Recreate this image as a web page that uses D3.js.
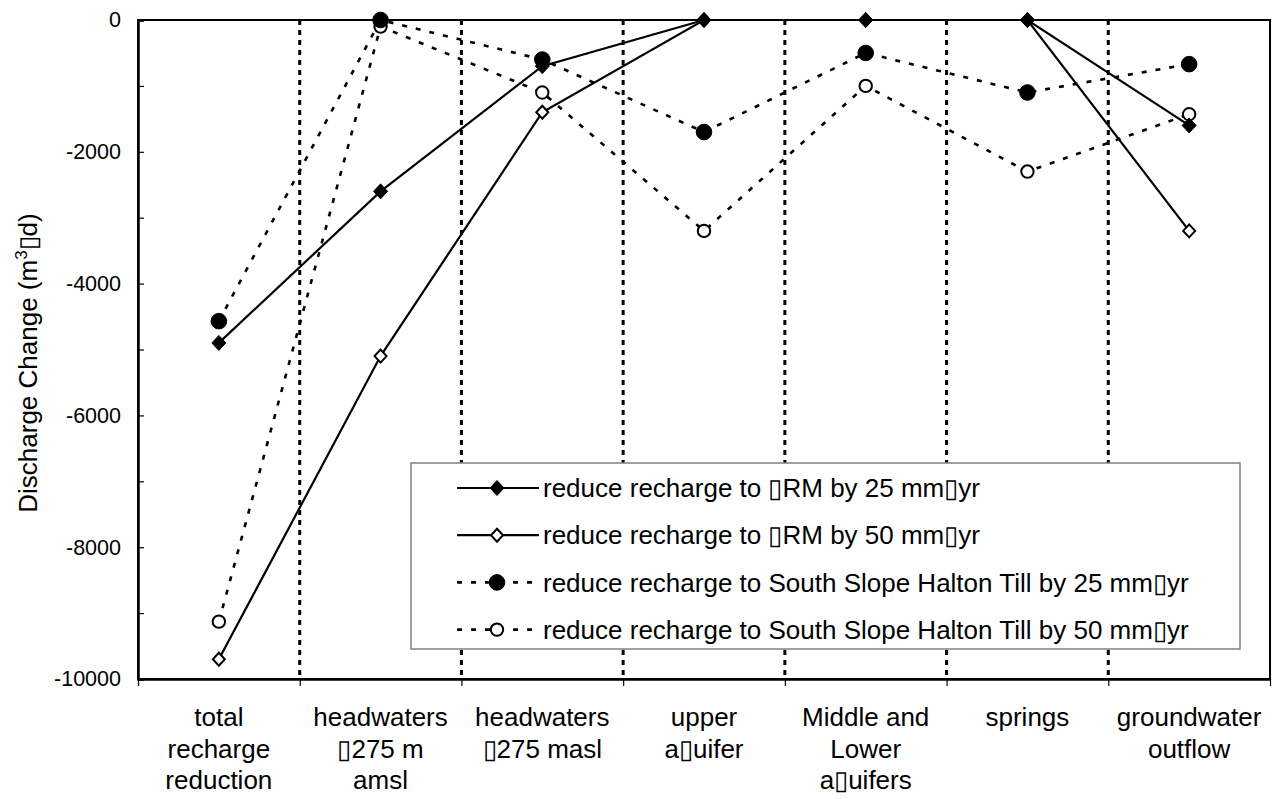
<!DOCTYPE html>
<html>
<head>
<meta charset="utf-8">
<style>
body { margin: 0; background: #fff; }
svg text { font-family: "Liberation Sans", Arial, sans-serif; fill: #000; }
.axis text { font-size: 21.5px; }
.cat text { font-size: 26px; text-anchor: middle; }
.legend text { font-size: 26px; }
</style>
</head>
<body>
<svg width="1275" height="799"></svg>
<script src="https://cdnjs.cloudflare.com/ajax/libs/d3/7.8.5/d3.min.js"></script>
<script>

// categories (line breaks as in the picture)
var categories = [
  ["total", "recharge", "reduction"],
  ["headwaters", "\u25AF275 m", "amsl"],
  ["headwaters", "\u25AF275 masl"],
  ["upper", "a\u25AFuifer"],
  ["Middle and", "Lower", "a\u25AFuifers"],
  ["springs"],
  ["groundwater", "outflow"]
];

var orm25  = [-4900, -2600, -700, 0, 0, 0, -1600];
var orm50  = [-9700, -5100, -1400, 0, 0, 0, -3200];
var till25 = [-4570, 0, -600, -1700, -500, -1100, -670];
var till50 = [-9130, -100, -1100, -3200, -1000, -2300, -1430];

var seriesNames = [
  "reduce recharge to \u25AFRM by 25 mm\u25AFyr",
  "reduce recharge to \u25AFRM by 50 mm\u25AFyr",
  "reduce recharge to South Slope Halton Till by 25 mm\u25AFyr",
  "reduce recharge to South Slope Halton Till by 50 mm\u25AFyr"
];

var yTicks = d3.range(-10000, 1, 1000);

(function() {

var svg = d3.select("svg");

var pLeft = 138, pRight = 1270, pTop = 20, pBottom = 679;

var xb = d3.scaleBand().domain(d3.range(categories.length)).range([pLeft, pRight]);
var xl = d3.scaleLinear().domain([0, categories.length]).range([pLeft, pRight]);
var y = d3.scaleLinear().domain([-10000, 0]).range([pBottom, pTop]);
var cx = function(i) { return xb(i) + xb.bandwidth() / 2; };

// frame
svg.append("rect")
    .attr("x", pLeft).attr("y", pTop)
    .attr("width", pRight - pLeft).attr("height", pBottom - pTop)
    .attr("fill", "none").attr("stroke", "#000").attr("stroke-width", 2);

// dashed category separators
svg.append("g").selectAll("line")
    .data(d3.range(1, categories.length))
  .enter().append("line")
    .attr("x1", function(d) { return xl(d); })
    .attr("x2", function(d) { return xl(d); })
    .attr("y1", pTop).attr("y2", pBottom)
    .attr("stroke", "#000").attr("stroke-width", 3)
    .attr("stroke-dasharray", "5,5");

// y axis
var yAxis = svg.append("g")
    .attr("class", "axis")
    .attr("transform", "translate(" + pLeft + ",0)")
    .call(d3.axisLeft(y)
      .tickValues(yTicks)
      .tickSize(-6)
      .tickPadding(17)
      .tickFormat(function(d) { return d % 2000 === 0 ? String(d) : ""; }));
yAxis.select(".domain").attr("stroke-width", 2.5);
yAxis.selectAll(".tick line").attr("stroke-width", 1.2);

// x axis (ticks at category boundaries)
var xAxis = svg.append("g")
    .attr("class", "axis")
    .attr("transform", "translate(0," + pBottom + ")")
    .call(d3.axisBottom(xl)
      .tickValues(d3.range(categories.length + 1))
      .tickSize(7)
      .tickSizeOuter(0)
      .tickFormat(""));
xAxis.select(".domain").attr("stroke-width", 2.5);
xAxis.selectAll(".tick line").attr("stroke-width", 1.2);

// category labels
var cat = svg.append("g").attr("class", "cat")
  .selectAll("text")
    .data(categories)
  .enter().append("text")
    .attr("x", function(d, i) { return cx(i); })
    .attr("y", 726);
cat.selectAll("tspan")
    .data(function(d) { return d; })
  .enter().append("tspan")
    .attr("x", function() { return d3.select(this.parentNode).attr("x"); })
    .attr("dy", function(d, j) { return j === 0 ? 0 : 31.5; })
    .text(function(d) { return d; });

// y title
var yt = svg.append("text")
    .attr("transform", "translate(37,363) rotate(-90)")
    .attr("text-anchor", "middle")
    .style("font-size", "26px");
yt.append("tspan").text("Discharge Change (m");
yt.append("tspan").attr("dy", -10).style("font-size", "17px").text("3");
yt.append("tspan").attr("dy", 10).text("\u25AFd)");

// series
var series = [
  { values: orm25,  dash: null,  marker: "diamond", filled: true },
  { values: orm50,  dash: null,  marker: "diamond", filled: false },
  { values: till25, dash: "5,9", marker: "circle",  filled: true },
  { values: till50, dash: "5,9", marker: "circle",  filled: false }
];

var line = d3.line()
    .x(function(d, i) { return cx(i); })
    .y(function(d) { return y(d); });

function drawMarker(g, s) {
  if (s.marker === "diamond") {
    var w = s.filled ? 7 : 6, h = s.filled ? 7.5 : 6.5;
    g.append("path")
      .attr("d", "M0," + (-h) + "L" + w + ",0L0," + h + "L" + (-w) + ",0Z")
      .attr("fill", s.filled ? "#000" : "#fff")
      .attr("stroke", "#000").attr("stroke-width", s.filled ? 1 : 2);
  } else {
    g.append("circle")
      .attr("r", s.filled ? 7.8 : 6.2)
      .attr("fill", s.filled ? "#000" : "#fff")
      .attr("stroke", "#000").attr("stroke-width", s.filled ? 1 : 2);
  }
}

var seriesG = svg.append("g");
series.slice().reverse().forEach(function(s) {
  var g = seriesG.append("g");
  g.append("path")
    .datum(s.values)
    .attr("d", line)
    .attr("fill", "none").attr("stroke", "#000")
    .attr("stroke-width", s.dash ? 2.6 : 2.2)
    .attr("stroke-dasharray", s.dash);
  g.selectAll("g.m")
    .data(s.values)
  .enter().append("g")
    .attr("class", "m")
    .attr("transform", function(d, i) { return "translate(" + cx(i) + "," + y(d) + ")"; })
    .each(function() { drawMarker(d3.select(this), s); });
});

// legend
var lg = svg.append("g").attr("class", "legend");
lg.append("rect")
    .attr("x", 411).attr("y", 463).attr("width", 829).attr("height", 186)
    .attr("fill", "#fff").attr("stroke", "#808080").attr("stroke-width", 1.5);
series.forEach(function(s, i) {
  var yy = 488 + i * 47.2;
  var row = lg.append("g").attr("transform", "translate(0," + yy + ")");
  row.append("line")
    .attr("x1", 457).attr("x2", 539).attr("y1", 0).attr("y2", 0)
    .attr("stroke", "#000")
    .attr("stroke-width", s.dash ? 2.6 : 2.2)
    .attr("stroke-dasharray", s.dash);
  drawMarker(row.append("g").attr("transform", "translate(497,0)"), s);
  row.append("text")
    .attr("x", 543).attr("dy", "0.35em")
    .text(seriesNames[i]);
});

})();

</script>
</body>
</html>
